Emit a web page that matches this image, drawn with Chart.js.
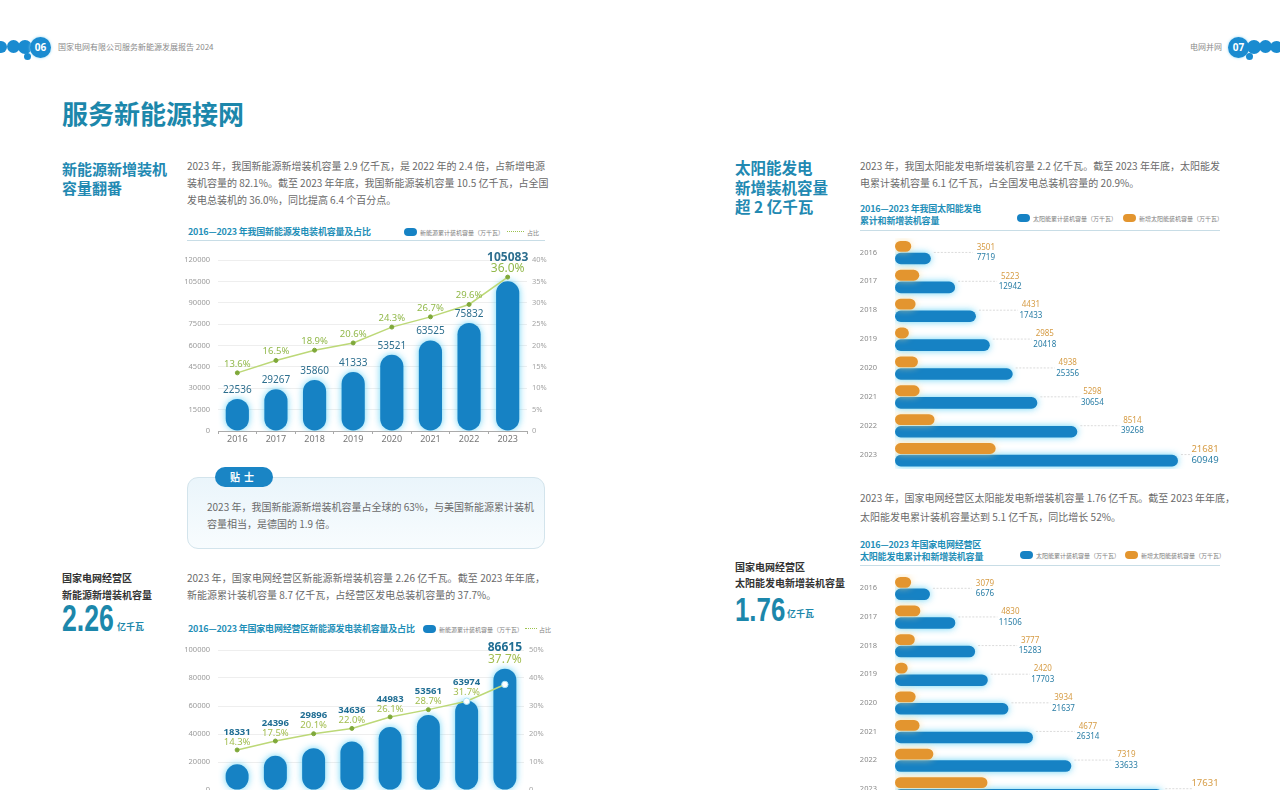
<!DOCTYPE html>
<html>
<head>
<meta charset="utf-8">
<script src="https://cdn.jsdelivr.net/npm/chart.js@4.4.1/dist/chart.umd.min.js"></script>
<style>
  body { margin: 0; width: 1280px; height: 790px; overflow: hidden; position: relative; background: #fff;
         font-family: "Noto Sans CJK SC", "Noto Sans", sans-serif; }
  .a { position: absolute; white-space: nowrap; }
  .dot { position: absolute; border-radius: 50%; background: #1a8bd0; }
  .pg { color: #fff; font: bold 10px "Noto Sans", sans-serif; text-align: center; line-height: 21px; width: 21px; height: 21px;
        box-shadow: 0 0 3px #8fd6f5; }
  .hdr { font-size: 8px; color: #8a8a8a; line-height: 10px; }
  .para { position: absolute; font-size: 10px; line-height: 17px; color: #6a6a6a; }
  .para .j { text-align: justify; text-align-last: justify; white-space: nowrap; }
  .ttl { color: #1c87ab; font-weight: bold; }
  .ctitle { position: absolute; color: #1f8fb8; font-weight: bold; font-size: 9px; line-height: 11.5px; white-space: nowrap; letter-spacing: -0.2px; }
  .rule { position: absolute; height: 1px; background: #c8dde6; }
  .lg { position: absolute; font-size: 6px; color: #808080; white-space: nowrap; line-height: 9px; }
  .pill { display: inline-block; width: 13px; height: 8px; border-radius: 5px; vertical-align: -1px; margin-right: 3px; }
  .dark { color: #333; font-weight: bold; font-size: 10px; line-height: 17px; }
  .big { position: absolute; white-space: nowrap; font-family: "Liberation Sans", sans-serif; font-weight: bold; color: #1c87ab;
         transform-origin: left top; }
  canvas { position: absolute; }
</style>
</head>
<body>
<!-- header decorations -->
<div class="dot" style="left:-5px;top:41px;width:12px;height:12px"></div>
<div class="dot" style="left:7px;top:40px;width:13px;height:13px"></div>
<div class="dot" style="left:18px;top:40px;width:14px;height:14px"></div>
<div class="dot" style="left:24px;top:53px;width:7px;height:7px"></div>
<div class="dot pg" style="left:30px;top:37px">06</div>
<div class="a hdr" style="left:58px;top:42px">国家电网有限公司服务新能源发展报告 2024</div>

<div class="a hdr" style="left:1190px;top:42px">电网并网</div>
<div class="dot pg" style="left:1228px;top:37px">07</div>
<div class="dot" style="left:1247px;top:40px;width:14px;height:14px"></div>
<div class="dot" style="left:1246px;top:53px;width:7px;height:7px"></div>
<div class="dot" style="left:1259px;top:40px;width:13px;height:13px"></div>
<div class="dot" style="left:1270px;top:41px;width:13px;height:12px"></div>

<!-- left page -->
<div class="a ttl" style="left:62px;top:97px;font-size:26px;line-height:32px">服务新能源接网</div>
<div class="a ttl" style="left:62px;top:159px;font-size:15px;line-height:19px;color:#2289b2">新能源新增装机<br>容量翻番</div>

<div class="para" style="left:187px;top:157px;width:358px">
  <div class="j">2023 年，我国新能源新增装机容量 2.9 亿千瓦，是 2022 年的 2.4 倍，占新增电源</div>
  <div class="j">装机容量的 82.1%。截至 2023 年年底，我国新能源装机容量 10.5 亿千瓦，占全国</div>
  <div>发电总装机的 36.0%，同比提高 6.4 个百分点。</div>
</div>

<div class="ctitle" style="left:188px;top:226px">2016—2023 年我国新能源发电装机容量及占比</div>
<div class="lg" style="left:404px;top:228px"><span class="pill" style="background:#1682c4"></span>新能源累计装机容量（万千瓦）<span style="display:inline-block;width:17px;border-top:1px dotted #9cc34f;vertical-align:3px;margin:0 3px"></span>占比</div>
<div class="rule" style="left:187px;top:240px;width:358px"></div>
<canvas id="c1" width="370" height="206" style="left:180px;top:245px"></canvas>

<!-- tip box -->
<div class="a" style="left:187px;top:477px;width:356px;height:70px;border:1px solid #d3e4ec;border-radius:11px;background:linear-gradient(#eaf5fb,#f8fcfe)"></div>
<div class="a" style="left:215px;top:467px;width:58px;height:20px;border-radius:10px;background:#1a85c5;color:#fff;font-weight:bold;font-size:10px;line-height:20px;text-align:center;letter-spacing:4px">贴士</div>
<div class="para" style="left:207px;top:499px;width:320px;line-height:16.5px">
  <div class="j">2023 年，我国新能源新增装机容量占全球的 63%，与美国新能源累计装机</div>
  <div>容量相当，是德国的 1.9 倍。</div>
</div>

<div class="a dark" style="left:62px;top:569px">国家电网经营区<br>新能源新增装机容量</div>
<div class="big" style="left:62px;top:601px;font-size:36px;line-height:36px;transform:scaleX(0.74)">2.26</div>
<div class="a" style="left:117px;top:620px;font-size:9px;color:#1c87ab;font-weight:bold">亿千瓦</div>

<div class="para" style="left:187px;top:569px;width:358px">
  <div class="j">2023 年，国家电网经营区新能源新增装机容量 2.26 亿千瓦。截至 2023 年年底，</div>
  <div>新能源累计装机容量 8.7 亿千瓦，占经营区发电总装机容量的 37.7%。</div>
</div>

<div class="ctitle" style="left:188px;top:623px">2016—2023 年国家电网经营区新能源发电装机容量及占比</div>
<div class="lg" style="left:423px;top:625px"><span class="pill" style="background:#1682c4"></span>新能源累计装机容量（万千瓦）<span style="display:inline-block;width:12px;border-top:1px dotted #9cc34f;vertical-align:3px;margin:0 2px"></span>占比</div>
<canvas id="c3" width="370" height="180" style="left:180px;top:630px"></canvas>

<!-- right page -->
<div class="a ttl" style="left:735px;top:158px;font-size:15.5px;line-height:19.5px;color:#2289b2">太阳能发电<br>新增装机容量<br>超 2 亿千瓦</div>
<div class="para" style="left:860px;top:157px;width:360px">
  <div class="j">2023 年，我国太阳能发电新增装机容量 2.2 亿千瓦。截至 2023 年年底，太阳能发</div>
  <div>电累计装机容量 6.1 亿千瓦，占全国发电总装机容量的 20.9%。</div>
</div>
<div class="ctitle" style="left:860px;top:203px">2016—2023 年我国太阳能发电<br>累计和新增装机容量</div>
<div class="lg" style="left:1017px;top:214px"><span class="pill" style="background:#1682c4"></span>太阳能累计装机容量（万千瓦）</div>
<div class="lg" style="left:1123px;top:214px"><span class="pill" style="background:#e3952f"></span>新增太阳能装机容量（万千瓦）</div>
<div class="rule" style="left:860px;top:230px;width:360px"></div>
<canvas id="c2" width="380" height="243" style="left:850px;top:232px"></canvas>

<div class="para" style="left:860px;top:488px;width:360px;line-height:19px">
  <div class="j">2023 年，国家电网经营区太阳能发电新增装机容量 1.76 亿千瓦。截至 2023 年年底，</div>
  <div>太阳能发电累计装机容量达到 5.1 亿千瓦，同比增长 52%。</div>
</div>
<div class="ctitle" style="left:860px;top:539px">2016—2023 年国家电网经营区<br>太阳能发电累计和新增装机容量</div>
<div class="lg" style="left:1020px;top:551px"><span class="pill" style="background:#1682c4"></span>太阳能累计装机容量（万千瓦）</div>
<div class="lg" style="left:1125px;top:551px"><span class="pill" style="background:#e3952f"></span>新增太阳能装机容量（万千瓦）</div>
<div class="rule" style="left:860px;top:565px;width:360px"></div>
<canvas id="c4" width="380" height="241" style="left:850px;top:568px"></canvas>

<div class="a dark" style="left:735px;top:559px;line-height:16px">国家电网经营区<br>太阳能发电新增装机容量</div>
<div class="big" style="left:735px;top:592px;font-size:34px;line-height:34px;transform:scaleX(0.76)">1.76</div>
<div class="a" style="left:787px;top:607px;font-size:9px;color:#1c87ab;font-weight:bold">亿千瓦</div>

<script>
const years = ['2016', '2017', '2018', '2019', '2020', '2021', '2022', '2023'];

// national new-energy capacity (10k kW) and share (%)
const natCapacity = [22536, 29267, 35860, 41333, 53521, 63525, 75832, 105083];
const natShare = [13.6, 16.5, 18.9, 20.6, 24.3, 26.7, 29.6, 36.0];
const natCapAxis = [0, 120000, 15000];
const natShareAxis = [0, 40, 5];

// national solar: cumulative and new (10k kW)
const solarTotal = [7719, 12942, 17433, 20418, 25356, 30654, 39268, 60949];
const solarNew = [3501, 5223, 4431, 2985, 4938, 5298, 8514, 21681];

// SGCC operating area new energy
const sgccCapacity = [18331, 24396, 29896, 34636, 44983, 53561, 63974, 86615];
const sgccShare = [14.3, 17.5, 20.1, 22.0, 26.1, 28.7, 31.7, 37.7];
const sgccCapAxis = [0, 100000, 20000];
const sgccShareAxis = [0, 50, 10];

// SGCC operating area solar (2023 cumulative label is cut off; about 5.1e4 per text)
const sgccSolarTotal = [6676, 11506, 15283, 17703, 21637, 26314, 33633, 51000];
const sgccSolarNew = [3079, 4830, 3777, 2420, 3934, 4677, 7319, 17631];

const BLUE = '#1682c4';
const ORANGE = '#e3952f';

Chart.defaults.font.family = '"Noto Sans", "Noto Sans CJK SC", sans-serif';
Chart.defaults.animation = false;

// soft glow round the bars
const glow = {
  id: 'glow',
  beforeDatasetDraw(chart, args) {
    if (args.meta.type !== 'bar') return;
    const ds = chart.data.datasets[args.index];
    chart.ctx.save();
    chart.ctx.shadowColor = ds.glowColor || 'rgba(80,205,245,0.85)';
    chart.ctx.shadowBlur = 7;
  },
  afterDatasetDraw(chart, args) {
    if (args.meta.type !== 'bar') return;
    chart.ctx.restore();
  }
};

// value + percent labels for the bar/line combos
const comboLabels = {
  id: 'comboLabels',
  afterDatasetsDraw(chart, args, opts) {
    const ctx = chart.ctx;
    const bars = chart.getDatasetMeta(0).data;
    const pts = chart.getDatasetMeta(1).data;
    const vals = chart.data.datasets[0].data;
    const pcts = chart.data.datasets[1].data;
    const last = vals.length - 1;
    ctx.save();
    ctx.textAlign = 'center';
    ctx.textBaseline = 'middle';
    bars.forEach((bar, i) => {
      const p = pts[i];
      const big = i === last;
      let vy, py;
      if (opts.stacked) {
        const top = Math.min(bar.y, p.y);
        py = top - (big ? 9 : 8);
        vy = py - (big ? 12 : 10);
      } else {
        py = p.y - 9;
        vy = bar.y - 9;
        if (Math.abs(vy - py) < 11) vy = py - 11;
      }
      ctx.fillStyle = opts.valueColor;
      ctx.font = (big ? 'bold 12px ' : opts.valueFont) + '"Noto Sans", sans-serif';
      ctx.fillText(String(vals[i]), bar.x, vy);
      ctx.fillStyle = opts.pctColor;
      ctx.font = (big ? '12px ' : '9.5px ') + '"Noto Sans", sans-serif';
      ctx.fillText(pcts[i].toFixed(1) + '%', p.x, py);
    });
    ctx.restore();
  }
};

// labels at the end of the horizontal bars with a dotted leader
const barEndLabels = {
  id: 'barEndLabels',
  afterDatasetsDraw(chart) {
    const ctx = chart.ctx;
    const area = chart.chartArea;
    const newBars = chart.getDatasetMeta(0).data;
    const totBars = chart.getDatasetMeta(1).data;
    const newVals = chart.data.datasets[0].data;
    const totVals = chart.data.datasets[1].data;
    const last = totVals.length - 1;
    ctx.save();
    ctx.textAlign = 'center';
    ctx.textBaseline = 'middle';
    totBars.forEach((bar, i) => {
      const mid = (newBars[i].y + bar.y) / 2;
      const lx = Math.min(bar.x + 55, area.right - 15);
      ctx.strokeStyle = '#d2d2d2';
      ctx.lineWidth = 0.8;
      ctx.setLineDash([2, 1.5]);
      ctx.beginPath();
      ctx.moveTo(bar.x + 3, mid);
      ctx.lineTo(lx - 13, mid);
      ctx.stroke();
      const f = i === last ? '9.5px ' : '8px ';
      ctx.font = f + '"Noto Sans", sans-serif';
      ctx.fillStyle = '#d69c45';
      ctx.fillText(String(newVals[i]), lx, mid - 5);
      ctx.fillStyle = '#2a7ea6';
      ctx.fillText(String(totVals[i]), lx, mid + 5.5);
    });
    ctx.restore();
  }
};

function comboChart(id, caps, shares, capAxis, shareAxis, rightWidth, padTop, labelOpts, pointBg) {
  return new Chart(document.getElementById(id), {
    type: 'bar',
    data: {
      labels: years,
      datasets: [
        {
          type: 'bar', data: caps, backgroundColor: BLUE, borderRadius: 12, borderSkipped: false,
          barPercentage: 0.6, categoryPercentage: 1, yAxisID: 'y', order: 2
        },
        {
          type: 'line', data: shares, borderColor: '#bcd877', borderWidth: 1.5, tension: 0,
          pointRadius: pointBg ? (c => pointBg(c) === '#fff' ? 3.2 : 2) : 2,
          pointBackgroundColor: pointBg || '#7fa83a',
          pointBorderColor: pointBg ? (c => pointBg(c) === '#fff' ? '#a8e2f6' : '#7fa83a') : '#7fa83a',
          pointBorderWidth: 1, yAxisID: 'y1', order: 1
        }
      ]
    },
    options: {
      responsive: false,
      devicePixelRatio: 1,
      layout: { padding: { top: padTop } },
      plugins: { legend: { display: false }, tooltip: { enabled: false }, comboLabels: labelOpts },
      scales: {
        x: {
          grid: { drawOnChartArea: false, drawTicks: true, tickLength: 3, color: '#aaa', offset: true },
          border: { color: '#aaa' },
          ticks: { color: '#777', font: { size: 9 }, padding: 0 },
          afterFit: s => { s.height = 20; }
        },
        y: {
          position: 'left', min: capAxis[0], max: capAxis[1],
          ticks: { stepSize: capAxis[2], color: '#9a9a9a', font: { size: 7.5 }, padding: 8, callback: v => String(v) },
          grid: { color: '#eeeeee', drawTicks: false },
          border: { display: false },
          afterFit: s => { s.width = 38; }
        },
        y1: {
          position: 'right', min: shareAxis[0], max: shareAxis[1],
          ticks: { stepSize: shareAxis[2], color: '#a5a5a5', font: { size: 7.5 }, padding: 5, callback: v => v ? v + '%' : '0' },
          grid: { display: false, drawTicks: false },
          border: { display: false },
          afterFit: s => { s.width = rightWidth; }
        }
      }
    },
    plugins: [glow, comboLabels]
  });
}

function solarChart(id, newVals, totVals, xMax) {
  return new Chart(document.getElementById(id), {
    type: 'bar',
    data: {
      labels: years,
      datasets: [
        { data: newVals, backgroundColor: ORANGE, borderRadius: 6, borderSkipped: false,
          barPercentage: 0.9, categoryPercentage: 0.84, glowColor: 'rgba(255,215,140,0.7)' },
        { data: totVals, backgroundColor: BLUE, borderRadius: 6, borderSkipped: false,
          barPercentage: 0.96, categoryPercentage: 0.84 }
      ]
    },
    options: {
      indexAxis: 'y',
      responsive: false,
      devicePixelRatio: 1,
      layout: { padding: { top: 6, bottom: 6, right: 10 } },
      plugins: { legend: { display: false }, tooltip: { enabled: false } },
      scales: {
        x: { display: false, min: 0, max: xMax },
        y: {
          grid: { display: false, drawTicks: false },
          border: { display: false },
          ticks: { color: '#8a8a8a', font: { size: 7.5 }, padding: 18 },
          // keep the label padding from shrinking the plot vertically
          afterFit: s => { s.width = 45; s.paddingTop = 0; s.paddingBottom = 0; }
        }
      }
    },
    plugins: [glow, barEndLabels]
  });
}

comboChart('c1', natCapacity, natShare, natCapAxis, natShareAxis, 23, 15,
  { stacked: false, valueColor: '#2c6e8e', pctColor: '#92b94b', valueFont: '10px ' });

comboChart('c3', sgccCapacity, sgccShare, sgccCapAxis, sgccShareAxis, 26, 20,
  { stacked: true, valueColor: '#1f6d93', pctColor: '#a2bd4f', valueFont: 'bold 9.5px ' },
  c => (sgccShare[c.dataIndex] / sgccShareAxis[1] < sgccCapacity[c.dataIndex] / sgccCapAxis[1]) ? '#fff' : '#7fa83a');

solarChart('c2', solarNew, solarTotal, 70000);
solarChart('c4', sgccSolarNew, sgccSolarTotal, 62000);
</script>
</body>
</html>
